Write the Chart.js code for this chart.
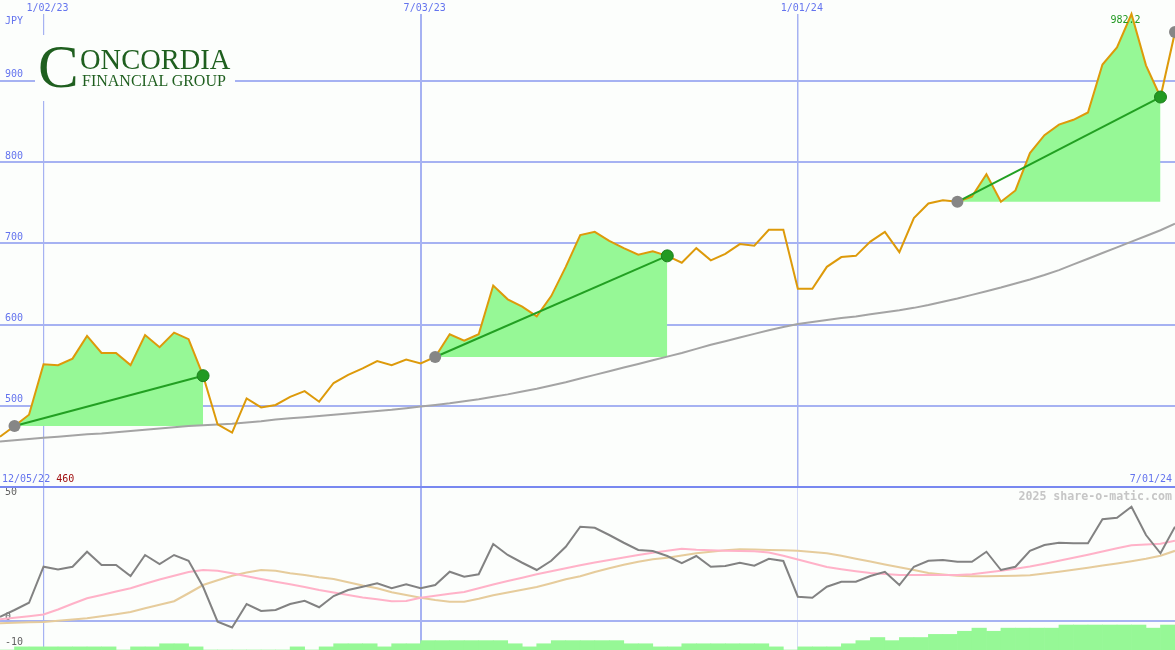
<!DOCTYPE html>
<html>
<head>
<meta charset="utf-8">
<script src="https://cdn.jsdelivr.net/npm/chart.js@4.4.1/dist/chart.umd.min.js"></script>
<style>
  body { margin: 0; background: #fcfefc; }
  #wrap { position: relative; width: 1175px; height: 650px; overflow: hidden; background: #fcfefc;
          font-family: "DejaVu Sans Mono", monospace; }
  canvas { position: absolute; left: 0; }
  #topChart { top: 0; }
  #lowChart { top: 488px; }
  #sep { position: absolute; left: 0; top: 486px; width: 1175px; height: 2px; background: #7888f0; }
  .lbl { position: absolute; font-size: 10px; line-height: 12px; color: #6474ee; white-space: nowrap; }
  #mark { position: absolute; right: 3px; top: 489px; font-size: 11.6px; line-height: 14px; font-weight: bold; color: #c6c6c6; }
  /* logo */
  #logo { position: absolute; left: 35px; top: 35px; width: 200px; height: 66px; background: #fcfefc; }
  #logo span { position: absolute; font-family: "Liberation Serif", "DejaVu Serif", serif; color: #1f5f1f; line-height: 1; white-space: nowrap; }
</style>
</head>
<body>
<div id="wrap">
  <canvas id="topChart" width="1175" height="487"></canvas>
  <canvas id="lowChart" width="1175" height="162"></canvas>
  <div id="sep"></div>

  <div id="logo">
    <span style="left:3px; top:1px; font-size:61px;">C</span>
    <span style="left:45px; top:10.7px; font-size:28.5px;">ONCORDIA</span>
    <span style="left:47px; top:38.2px; font-size:16px;">FINANCIAL GROUP</span>
  </div>

  <div class="lbl" style="left:5px; top:15px;">JPY</div>
  <div class="lbl" style="left:2px; top:473px;">12/05/22 <span style="color:#a01010">460</span></div>
  <div class="lbl" style="right:3px; top:473px;">7/01/24</div>
  <div id="mark">2025 share-o-matic.com</div>
</div>

<script>
// weekly points, index 0 = week of 12/12/22
const tickIdx = [3, 29, 55];
const tickDates = ['1/02/23', '7/03/23', '1/01/24'];
const priceTicks = [500, 600, 700, 800, 900];
const oscTicks = [50, 0, -10];

const price = [462, 475, 489, 551, 550, 558, 586, 565, 565, 550,
  587, 572, 590, 582, 537, 477, 467, 509, 498, 501,
  511, 518, 505, 528, 538, 546, 555, 550, 557, 552,
  560, 588, 580, 588, 648, 631, 622, 610, 635, 671,
  710, 714, 703, 694, 686, 690, 684.5, 676, 694, 679,
  687, 699, 697, 716.5, 716.5, 644, 644, 671, 683, 684.5,
  702, 714, 689, 731, 749, 753, 751, 757.5, 785, 751,
  765, 811, 833, 846, 852, 861, 920, 941, 982.2, 919,
  880, 960];

const ma = [456, 457.5, 459, 460.5, 462, 463.5, 465, 466, 467.5, 469,
  470.5, 472, 473.5, 475, 476, 477, 478, 479.5, 481, 483,
  484.5, 486, 487.5, 489, 490.5, 492, 493.5, 495, 497, 499,
  501, 503, 505.5, 508, 511, 514, 517.5, 521, 525, 529,
  533.5, 538, 542.5, 547, 551.5, 556, 560.5, 565, 570, 575,
  579.5, 584, 588.5, 593, 597, 600.5, 603, 605.5, 608, 610,
  612.5, 615, 617.5, 620.5, 624, 628, 632, 636.5, 641, 645.5,
  650.5, 655.5, 661, 667, 674, 681, 688, 695, 702, 709,
  716, 724];

const osc = [1.6, 4.3, 7.2, 21.6, 20.5, 21.6, 27.6, 22.3, 22.3, 17.9,
  26.3, 22.7, 26.3, 24, 13.6, -0.4, -2.7, 6.7, 3.9, 4.3,
  6.7, 8, 5.4, 9.9, 12.3, 13.6, 15, 13, 14.6, 13,
  14.3, 19.6, 17.6, 18.6, 30.7, 26.3, 23.2, 20.3, 24, 29.6,
  37.6, 37.2, 34.3, 31.2, 28.3, 27.9, 25.9, 23, 25.9, 21.6,
  21.9, 23.2, 22, 24.8, 23.9, 9.6, 9.2, 13.6, 15.6, 15.6,
  17.9, 19.6, 14.3, 21.6, 24, 24.3, 23.6, 23.6, 27.6, 20.3,
  21.6, 28, 30.3, 31.2, 31, 31, 40.6, 41.2, 45.6, 34.3,
  27, 37.6];

const oscPink = [0.6, 1.2, 1.8, 2.5, 4.5, 6.8, 9, 10.3, 11.7, 13,
  14.8, 16.5, 18, 19.5, 20.3, 20, 19, 17.8, 16.7, 15.6,
  14.6, 13.5, 12.3, 11.3, 10.3, 9.3, 8.6, 7.8, 7.9, 9.2,
  10, 10.8, 11.5, 13, 14.5, 15.9, 17.2, 18.6, 19.8, 21,
  22.2, 23.3, 24.3, 25.3, 26.3, 27.2, 28, 28.8, 28.4, 28.2,
  28, 27.9, 27.8, 27.3, 26, 24.5, 23, 21.5, 20.6, 19.8,
  19.1, 18.7, 18.3, 18.3, 18.3, 18.3, 18.3, 18.6, 19.3, 20,
  20.8, 21.7, 22.8, 24, 25.2, 26.4, 27.7, 29, 30.2, 30.5,
  30.8, 32];

const oscTan = [-1, -0.8, -0.6, -0.5, 0, 0.5, 1, 1.8, 2.6, 3.5,
  5, 6.4, 7.8, 11, 14.3, 16.2, 18, 19.3, 20.3, 20,
  19, 18.3, 17.4, 16.7, 15.4, 14.1, 13, 11.4, 10.3, 9.2,
  8.3, 7.6, 7.6, 8.8, 10.2, 11.3, 12.4, 13.5, 15, 16.6,
  17.8, 19.5, 21, 22.4, 23.6, 24.6, 25.2, 26.1, 27, 27.6,
  28.2, 28.6, 28.5, 28.3, 28.2, 28, 27.5, 27, 26, 24.8,
  23.7, 22.5, 21.4, 20.3, 19.1, 18.5, 18, 17.8, 17.8, 17.9,
  18, 18.2, 18.9, 19.6, 20.4, 21.2, 22.1, 22.9, 23.8, 24.8,
  26, 28];

// stepped bars between weeks k and k+1
const volume = [0, 1, 1, 1, 1, 1, 1, 1, 0, 1, 1, 2, 2, 1, 0, 0, 0, 0, 0, 0,
  1, 0, 1, 2, 2, 2, 1, 2, 2, 3, 3, 3, 3, 3, 3, 2, 1, 2, 3, 3,
  3, 3, 3, 2, 2, 1, 1, 2, 2, 2, 2, 2, 2, 1, 0, 1, 1, 1, 2, 3,
  4, 3, 4, 4, 5, 5, 6, 7, 6, 7, 7, 7, 7, 8, 8, 8, 8, 8, 8, 7, 8];

const signalStart = [1, 30, 66];
const signalEnd = [14, 46, 80];
const openSignal = 81;
const peakIdx = 78;
const peakLabel = '982.2';

const gridBlue = '#a6b2f2';
const fillGreen = '#96f896';
const monoFont = { family: '"DejaVu Sans Mono", monospace', size: 10 };

const pt = (arr, i) => ({ x: i, y: arr[i] });
const setTicks = vals => s => { s.ticks = vals.map(v => ({ value: v })); };
// labels sit inside the plot, so the axis takes no room at all
const noRoom = s => { s.width = 0; s.paddingTop = 0; s.paddingBottom = 0; };

// ---------- price panel ----------
const fillSets = signalStart.map((s, n) => {
  const pts = [];
  for (let i = s; i <= signalEnd[n]; i++) pts.push(pt(price, i));
  return { data: pts, borderWidth: 0, pointRadius: 0, backgroundColor: fillGreen, fill: { value: price[s] } };
});
const trendSets = signalStart.map((s, n) => ({
  data: [pt(price, s), pt(price, signalEnd[n])],
  borderColor: '#22a022', borderWidth: 2, pointRadius: 0, fill: false
}));

const topLabels = {
  id: 'topLabels',
  afterDraw(chart) {
    const { ctx, scales: { x, y } } = chart;
    ctx.save();
    ctx.font = '10px "DejaVu Sans Mono"';
    ctx.textAlign = 'center';
    ctx.textBaseline = 'middle';
    ctx.fillStyle = '#6474ee';
    tickIdx.forEach((t, i) => ctx.fillText(tickDates[i], x.getPixelForValue(t) + 4, 8));
    ctx.fillStyle = '#229922';
    ctx.fillText(peakLabel, x.getPixelForValue(peakIdx) - 6, y.getPixelForValue(price[peakIdx]) + 6);
    ctx.restore();
  }
};

new Chart(document.getElementById('topChart'), {
  type: 'line',
  data: {
    datasets: [
      { data: signalStart.map(i => pt(price, i)).concat([pt(price, openSignal)]), showLine: false,
        pointRadius: 6, pointBackgroundColor: '#868686', pointBorderWidth: 0 },
      { data: signalEnd.map(i => pt(price, i)), showLine: false,
        pointRadius: 6, pointBackgroundColor: '#229a22', pointBorderColor: '#1c801c', pointBorderWidth: 1 },
      ...trendSets,
      { data: price.map((v, i) => ({ x: i, y: v })), borderColor: '#dd9a0a', borderWidth: 2, pointRadius: 0, fill: false },
      { data: ma.map((v, i) => ({ x: i, y: v })), borderColor: '#a4a4a4', borderWidth: 2, pointRadius: 0, fill: false },
      ...fillSets
    ]
  },
  options: {
    responsive: false, animation: false, devicePixelRatio: 1, events: [],
    layout: { autoPadding: false, padding: { top: 14, left: 0, right: 0, bottom: 0 } },
    elements: { line: { tension: 0 } },
    datasets: { line: { clip: 6 } },
    plugins: { legend: { display: false }, tooltip: { enabled: false } },
    scales: {
      x: {
        type: 'linear', min: 0, max: price.length - 1, offset: false,
        afterBuildTicks: setTicks(tickIdx),
        ticks: { display: false },
        grid: { offset: false, color: gridBlue, lineWidth: c => [1.2, 2, 1.5][c.index] || 1, drawTicks: false },
        border: { display: false }
      },
      y: {
        min: 400, max: 982.2,
        afterBuildTicks: setTicks(priceTicks),
        afterFit: noRoom,
        ticks: { mirror: true, padding: 5, labelOffset: -6, color: '#6474ee', font: monoFont },
        grid: { color: gridBlue, lineWidth: 2, drawTicks: false },
        border: { display: false }
      }
    }
  },
  plugins: [topLabels]
});

// ---------- oscillator panel ----------
new Chart(document.getElementById('lowChart'), {
  type: 'line',
  data: {
    datasets: [
      { data: osc.map((v, i) => ({ x: i, y: v })), borderColor: '#828282', borderWidth: 2, pointRadius: 0 },
      { data: oscPink.map((v, i) => ({ x: i, y: v })), borderColor: '#ffb2c8', borderWidth: 2.2, pointRadius: 0 },
      { data: oscTan.map((v, i) => ({ x: i, y: v })), borderColor: '#e6cc9c', borderWidth: 2.2, pointRadius: 0 },
      { type: 'bar', data: volume.map((v, k) => ({ x: k + 0.5, y: v })), yAxisID: 'yv',
        backgroundColor: fillGreen, borderWidth: 0, barPercentage: 1, categoryPercentage: 1 }
    ]
  },
  options: {
    responsive: false, animation: false, devicePixelRatio: 1, events: [],
    layout: { autoPadding: false, padding: 0 },
    elements: { line: { tension: 0 } },
    plugins: { legend: { display: false }, tooltip: { enabled: false } },
    scales: {
      x: {
        type: 'linear', min: 0, max: price.length - 1, offset: false,
        afterBuildTicks: setTicks(tickIdx),
        ticks: { display: false },
        grid: { offset: false, color: c => c.index === 2 ? '#d4daf6' : gridBlue, lineWidth: c => [1.2, 2, 1][c.index] || 1, drawTicks: false },
        border: { display: false }
      },
      y: {
        min: -11.7, max: 53.1,
        afterBuildTicks: setTicks(oscTicks),
        afterFit: noRoom,
        ticks: { mirror: true, padding: 5, labelOffset: -3.5, color: '#626262', font: monoFont },
        grid: { color: c => c.tick && c.tick.value === 0 ? gridBlue : 'rgba(0,0,0,0)', lineWidth: 2, drawTicks: false },
        border: { display: false }
      },
      yv: { display: false, min: 0, max: 51.9 }
    }
  }
});
</script>
</body>
</html>
